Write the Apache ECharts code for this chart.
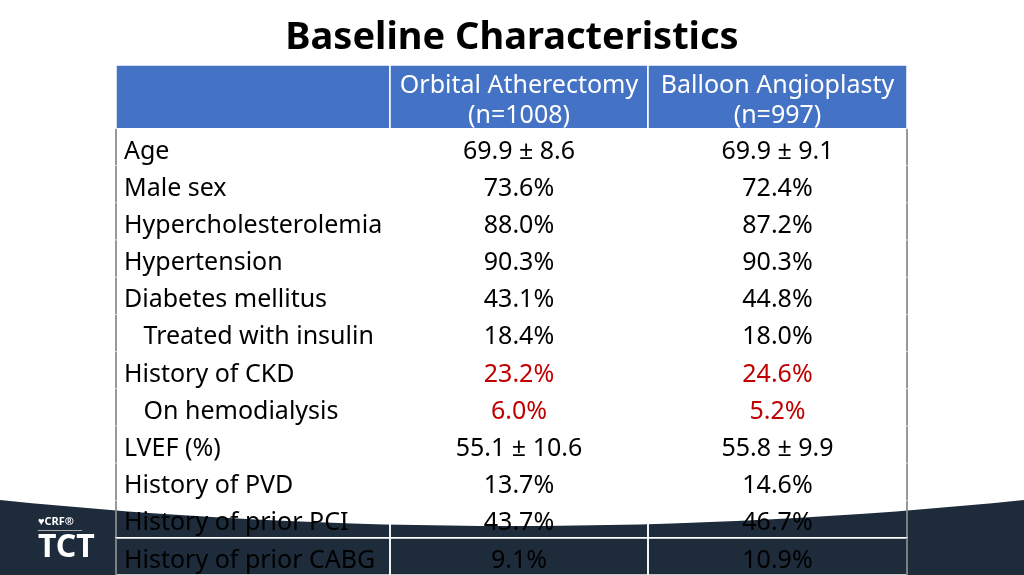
<!DOCTYPE html><html><head><meta charset="utf-8"><script src="https://cdn.jsdelivr.net/npm/echarts@6/dist/echarts.min.js"></script>
<style>html,body{margin:0;background:#fff}#c{width:1024px;height:575px}</style></head><body><div id="c"></div><script>
const headers=['','Orbital Atherectomy\n(n=1008)','Balloon Angioplasty\n(n=997)'];
const labels=['Age','Male sex','Hypercholesterolemia','Hypertension','Diabetes mellitus','   Treated with insulin','History of CKD','   On hemodialysis','LVEF (%)','History of PVD','History of prior PCI','History of prior CABG'];
const oa=['69.9 ± 8.6','73.6%','88.0%','90.3%','43.1%','18.4%','23.2%','6.0%','55.1 ± 10.6','13.7%','43.7%','9.1%'];
const ba=['69.9 ± 9.1','72.4%','87.2%','90.3%','44.8%','18.0%','24.6%','5.2%','55.8 ± 9.9','14.6%','46.7%','10.9%'];
const highlight=[6,7];
const colEdges=[0,274,532,791];
const H=-1.716;
const band=[];
for(let i=0;i<=32;i++){const t=i/32;const x=1024*t;band.push([x,500+52*t*(1-t)*2]);}
band.push([1024,575],[0,575]);
const chart=echarts.init(document.getElementById('c'));
const cells=[];
for(let c=0;c<3;c++)cells.push([c,-1]);
labels.forEach((l,i)=>{for(let c=0;c<3;c++)cells.push([c,i]);});
chart.setOption({
 title:{text:'Baseline Characteristics',left:'center',top:14,textStyle:{fontFamily:'Noto Sans',fontWeight:'bold',fontSize:38,color:'#000'}},
 graphic:[
  {type:'polygon',z:-10,shape:{points:band},style:{fill:'#1d2b3b'}},
  {type:'text',left:38,top:516,z:5,style:{text:'♥CRF®',fill:'#fff',fontSize:11,fontFamily:'Noto Sans',fontWeight:'bold'}},
  {type:'rect',left:38,top:530,z:5,shape:{width:44,height:1},style:{fill:'#aaa'}},
  {type:'text',left:38,top:532,z:5,style:{text:'TCT',fill:'#fff',fontSize:32,fontFamily:'Noto Sans',fontWeight:'bold'}}
 ],
 grid:{left:116,top:65,width:791,height:512},
 xAxis:{type:'value',min:0,max:791,show:false},
 yAxis:{type:'value',min:H,max:12,inverse:true,show:false},
 series:[{type:'custom',data:cells,renderItem:(p,api)=>{
  const c=api.value(0),r=api.value(1);
  const y0=r<0?H:r,y1=r<0?0:r+1;
  const a=api.coord([colEdges[c],y0]),b=api.coord([colEdges[c+1],y1]);
  const isH=r<0;
  let txt,align='center',tx=(a[0]+b[0])/2,col='#000';
  if(isH){txt=headers[c];}
  else{txt=c===0?labels[r]:(c===1?oa[r]:ba[r]);if(c===0){align='left';tx=a[0]+8;}
   if(c>0&&highlight.includes(r))col='#c00000';}
  const ch=[{type:'rect',shape:{x:a[0],y:a[1],width:b[0]-a[0],height:b[1]-a[1]},style:{fill:isH?'#4472c4':'rgba(0,0,0,0)',stroke:'#fff',lineWidth:1.5}},
   {type:'text',style:{text:txt,x:tx,y:(a[1]+b[1])/2+(isH?4:4),align:align,verticalAlign:'middle',fill:isH?'#fff':col,fontSize:25,fontFamily:'Noto Sans',lineHeight:30}}];
  if(!isH&&c===0)ch.push({type:'line',shape:{x1:a[0],y1:a[1],x2:a[0],y2:b[1]},style:{stroke:'#333',lineWidth:1}});
  if(!isH&&c===2)ch.push({type:'line',shape:{x1:b[0],y1:a[1],x2:b[0],y2:b[1]},style:{stroke:'#333',lineWidth:1}});
  return {type:'group',children:ch};
 }}]
});
</script></body></html>
